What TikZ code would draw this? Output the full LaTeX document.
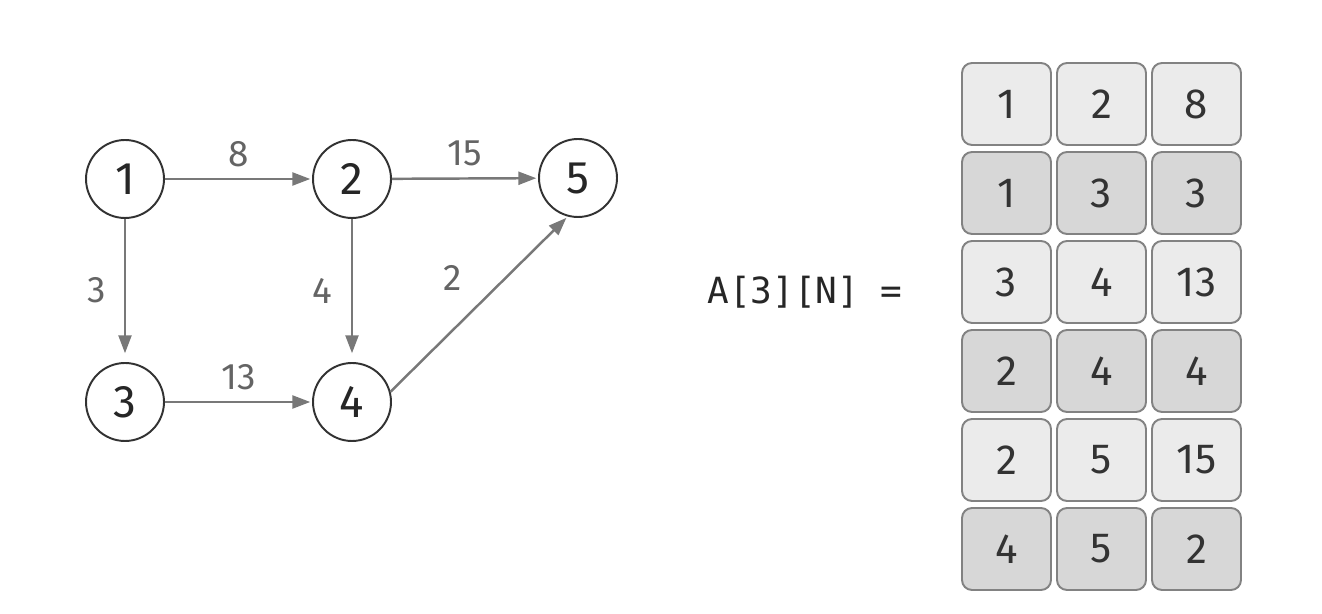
\documentclass[tikz,border=0pt]{standalone}
\usepackage{fontspec}
\setmainfont{Fira Sans}
\newfontfamily\codefont{DejaVu Sans Mono}
\usetikzlibrary{arrows.meta,positioning}
\definecolor{EdgeGray}{RGB}{120,120,120}
\definecolor{LabelGray}{RGB}{100,100,100}
\definecolor{RingGray}{RGB}{50,50,50}
\definecolor{CellLight}{RGB}{235,235,235}
\definecolor{CellDark}{RGB}{215,215,215}
\definecolor{CellLine}{RGB}{130,130,130}

\begin{document}
\begin{tikzpicture}[
    x=0.02cm, y=-0.02cm,
    vertex/.style={circle, draw=RingGray, line width=1.1pt, fill=white, minimum size=1.56cm, inner sep=0pt, font=\fontsize{26}{26}\selectfont, text=black!85},
    arrow/.style={->, draw=EdgeGray, line width=1.4pt, shorten >=1pt, >={Triangle[length=0.36cm, width=0.26cm]}},
    weight/.style={font=\fontsize{21}{21}\selectfont, text=LabelGray},
    cell/.style={draw=CellLine, line width=1.1pt, rounded corners=0.2cm, minimum width=1.78cm, minimum height=1.64cm, inner sep=0pt, font=\fontsize{24}{24}\selectfont, text=black!80}
]
\useasboundingbox (0,0) rectangle (1322,614);

% === GRAPH ===
\node[vertex] (n1) at (125, 179) {1};
\node[vertex] (n2) at (352, 179) {2};
\node[vertex] (n5) at (578, 178) {5};
\node[vertex] (n3) at (125, 402) {3};
\node[vertex] (n4) at (352, 402) {4};

\draw[arrow] (n1) -- node[above=3pt, weight] {8} (n2);
\draw[arrow] (n2) -- node[above=3pt, weight] {15} (n5);
\draw[arrow, shorten >=5pt] (n1) -- node[left=7pt, weight] {3} (n3);
\draw[arrow, shorten >=5pt] (n2) -- node[left=7pt, weight] {4} (n4);
\draw[arrow] (n3) -- node[above=3pt, weight] {13} (n4);
\draw[arrow] (n4.15) -- node[above left=4pt and 6pt, weight] {2} (n5.-105);

% === EDGE ARRAY ===
\node[font=\codefont\fontsize{20.5}{20.5}\selectfont, text=black!85] (lhs) at (805, 292) {A[3][N] =};

\foreach \u/\v/\w/\shade [count=\r] in {1/2/8/CellLight, 1/3/3/CellDark, 3/4/13/CellLight, 2/4/4/CellDark, 2/5/15/CellLight, 4/5/2/CellDark} {
    \node[cell, fill=\shade] (c\r-1) at (1006.5, 15+89*\r) {\u};
    \node[cell, fill=\shade] (c\r-2) at (1101.5, 15+89*\r) {\v};
    \node[cell, fill=\shade] (c\r-3) at (1196.5, 15+89*\r) {\w};
}

\end{tikzpicture}
\end{document}
